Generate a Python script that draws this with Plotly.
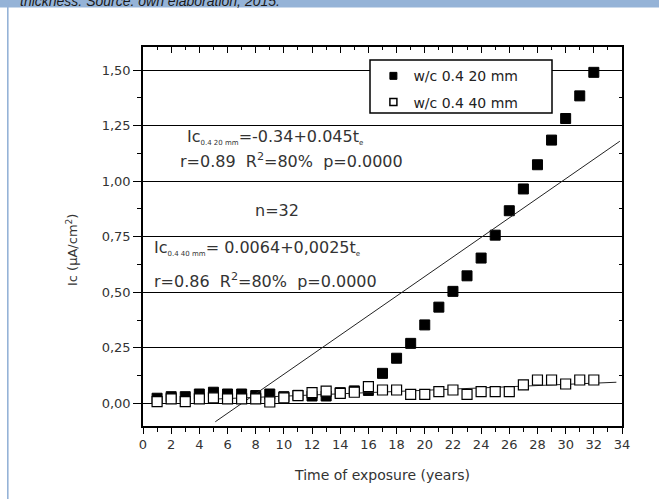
import plotly.graph_objects as go

# ---- data ----
years = [1, 2, 3, 4, 5, 6, 7, 8, 9, 10, 11, 12, 13, 14, 15, 16,
         17, 18, 19, 20, 21, 22, 23, 24, 25, 26, 27, 28, 29, 30, 31, 32]
ic_20mm = [0.023, 0.030, 0.030, 0.042, 0.050, 0.042, 0.042, 0.035, 0.042, 0.030,
           0.036, 0.033, 0.033, 0.048, 0.056, 0.058, 0.135, 0.203, 0.270, 0.353,
           0.433, 0.504, 0.574, 0.654, 0.757, 0.867, 0.965, 1.074, 1.185, 1.282,
           1.384, 1.490]
ic_40mm = [0.008, 0.020, 0.008, 0.020, 0.025, 0.020, 0.020, 0.020, 0.006, 0.025,
           0.035, 0.048, 0.055, 0.045, 0.050, 0.075, 0.060, 0.060, 0.040, 0.040,
           0.053, 0.060, 0.040, 0.053, 0.053, 0.053, 0.083, 0.105, 0.105, 0.087,
           0.105, 0.105]
fit20_x = [5.13, 33.85]
fit20_y = [-0.083, 1.18]
fit40_x = [5.0, 33.6]
fit40_y = [0.019, 0.095]

series_names = ["w/c 0.4 20 mm", "w/c 0.4 40 mm"]
x_title = "Time of exposure (years)"
y_title = "Ic (µA/cm<sup>2</sup>)"
caption = "thickness. Source: own elaboration, 2015."

FONT = "DejaVu Sans"
TXT = "#333333"

fig = go.Figure()
fig.add_trace(go.Scatter(
    x=years, y=ic_20mm, mode="markers", name=series_names[0],
    showlegend=False,
    marker=dict(symbol="square", size=10, color="black",
                line=dict(color="black", width=1))))
fig.add_trace(go.Scatter(
    x=fit20_x, y=fit20_y, mode="lines", showlegend=False,
    line=dict(color="#222222", width=1)))
fig.add_trace(go.Scatter(
    x=fit40_x, y=fit40_y, mode="lines", showlegend=False,
    line=dict(color="#222222", width=1)))
fig.add_trace(go.Scatter(
    x=years, y=ic_40mm, mode="markers", name=series_names[1],
    showlegend=False,
    marker=dict(symbol="square", size=10, color="white",
                line=dict(color="black", width=1.2))))
# legend entries (smaller symbols, as in the original legend)
fig.add_trace(go.Scatter(
    x=[None], y=[None], mode="markers", name=series_names[0], legendgroup="a",
    marker=dict(symbol="square", size=7, color="black",
                line=dict(color="black", width=1))))
fig.add_trace(go.Scatter(
    x=[None], y=[None], mode="markers", name=series_names[1], legendgroup="b",
    marker=dict(symbol="square", size=7, color="white",
                line=dict(color="black", width=1.5))))
# helper trace for mirrored (inside) ticks on top/right
fig.add_trace(go.Scatter(x=[], y=[], xaxis="x2", yaxis="y2",
                         showlegend=False, hoverinfo="skip"))

axis_common = dict(showline=True, linecolor="black", linewidth=1.5,
                   tickcolor="black", tickwidth=1.2, zeroline=False)

fig.update_layout(
    width=659, height=499,
    margin=dict(l=143, r=37, t=47, b=73),
    paper_bgcolor="white", plot_bgcolor="white",
    separators=",.",
    font=dict(family=FONT, color=TXT, size=13),
    xaxis=dict(range=[0, 34], tickmode="linear", tick0=0, dtick=2,
               ticks="outside", ticklen=6, showgrid=False,
               tickfont=dict(family=FONT, size=13, color=TXT),
               minor=dict(dtick=1, tick0=0, ticks="outside", ticklen=4,
                          tickcolor="black", showgrid=False),
               title=dict(text=x_title, font=dict(family=FONT, size=14, color=TXT),
                          standoff=19),
               **axis_common),
    yaxis=dict(range=[-0.102, 1.604], tickmode="linear", tick0=0, dtick=0.25,
               tickformat=".2f", ticks="outside", ticklen=8,
               showgrid=True, gridcolor="black", gridwidth=1.3,
               tickfont=dict(family=FONT, size=13, color=TXT),
               minor=dict(dtick=0.125, tick0=0, ticks="outside", ticklen=4,
                          tickcolor="black", showgrid=False),
               **axis_common),
    xaxis2=dict(range=[0, 34], overlaying="x", side="top", anchor="y",
                tickmode="linear", tick0=0, dtick=2, ticks="inside", ticklen=6,
                showticklabels=False, showgrid=False,
                minor=dict(dtick=1, tick0=0, ticks="inside", ticklen=3,
                           tickcolor="black", showgrid=False),
                **axis_common),
    yaxis2=dict(range=[-0.102, 1.604], overlaying="y", side="right", anchor="x",
                tickmode="linear", tick0=0, dtick=0.25, ticks="inside", ticklen=6,
                showticklabels=False, showgrid=False,
                minor=dict(dtick=0.125, tick0=0, ticks="inside", ticklen=3,
                           tickcolor="black", showgrid=False),
                **axis_common),
    legend=dict(x=0.481, y=0.965, xanchor="left", yanchor="top",
                bgcolor="rgba(0,0,0,0)", borderwidth=0,
                traceorder="grouped", tracegroupgap=5,
                font=dict(family=FONT, size=14, color="#222222")),
    showlegend=True,
)

# legend frame
fig.add_shape(type="rect", xref="paper", yref="paper",
              x0=(370 - 143) / 479, x1=(552 - 143) / 479,
              y0=1 - (113 - 47) / 379, y1=1 - (60 - 47) / 379,
              line=dict(color="black", width=1.5), fillcolor="white", layer="above")

# caption banner at top and blue left rule
fig.add_shape(type="rect", xref="paper", yref="paper",
              x0=-143 / 479, x1=1 + 37 / 479,
              y0=1 + (47 - 7.5) / 379, y1=1 + 48 / 379,
              line=dict(width=0), fillcolor="#95B3D7", layer="above")
fig.add_shape(type="line", xref="paper", yref="paper",
              x0=(-143 + 7.8) / 479, x1=(-143 + 7.8) / 479,
              y0=-80 / 379, y1=1 + 47 / 379,
              line=dict(color="#95B3D7", width=1.6), layer="above")
fig.add_annotation(text="<i>" + caption + "</i>", xref="paper", yref="paper",
                   x=(18 - 143) / 479, y=1 + (47 + 9) / 379,
                   xanchor="left", yanchor="top", showarrow=False,
                   font=dict(family="Liberation Sans", size=14, color="#1a1a1a"))

# y axis title
fig.add_annotation(text=y_title, xref="paper", yref="paper",
                   x=(72 - 143) / 479, y=1 - (250 - 47) / 379,
                   xanchor="center", yanchor="middle", textangle=-90,
                   showarrow=False, font=dict(family=FONT, size=13, color=TXT))

SUB = "<sub><span style='font-size:7px'>{}</span></sub>"
ann_font = dict(family=FONT, size=16, color=TXT)
notes = [
    ("Ic" + SUB.format("0.4 20 mm") + "=-0.34+0.045t" + SUB.format("e"), 3.0, 1.2, "left"),
    ("r=0.89  R<sup>2</sup>=80%  p=0.0000", 2.45, 1.095, "left"),
    ("n=32", 9.53, 0.87, "center"),
    ("Ic" + SUB.format("0.4 40 mm") + "= 0.0064+0,0025t" + SUB.format("e"), 0.66, 0.70, "left"),
    ("r=0.86  R<sup>2</sup>=80%  p=0.0000", 0.66, 0.555, "left"),
]
for txt, xx, yy, anc in notes:
    fig.add_annotation(text=txt, x=xx, y=yy, xref="x", yref="y",
                       xanchor=anc, yanchor="middle", showarrow=False,
                       font=ann_font)

fig.write_html("out.html",
               config={"displayModeBar": False},
               post_script="document.body.style.margin='0';document.body.style.overflow='hidden';")
